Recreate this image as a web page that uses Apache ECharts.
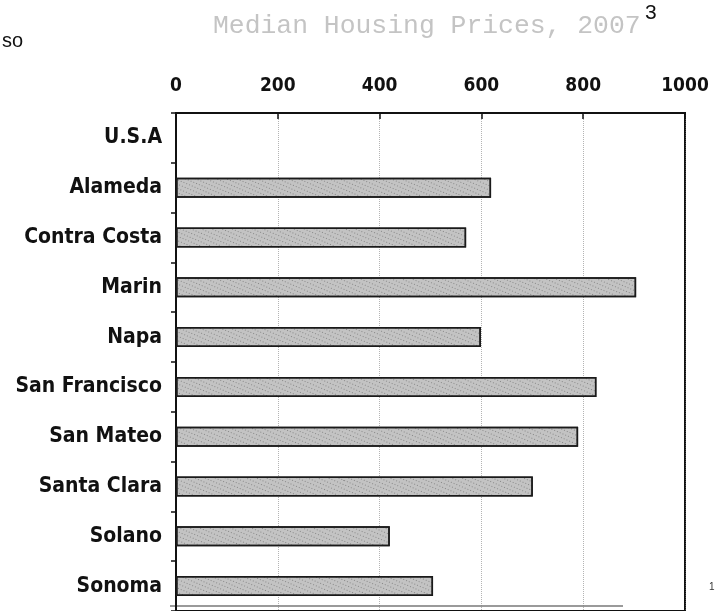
<!DOCTYPE html>
<html>
<head>
<meta charset="utf-8">
<script src="https://cdn.jsdelivr.net/npm/echarts@6/dist/echarts.min.js"></script>
<style>
  html, body { margin: 0; padding: 0; background: #fff; }
  #chart { width: 727px; height: 611px; }
</style>
</head>
<body>
<div id="chart"></div>
<script>
// Median housing prices by county, 2007 (thousands of dollars)
const counties = ['U.S.A', 'Alameda', 'Contra Costa', 'Marin', 'Napa',
  'San Francisco', 'San Mateo', 'Santa Clara', 'Solano', 'Sonoma'];
const medianPrice = [null, 619, 570, 904, 599, 826, 790, 701, 420, 505];
const priceTicks = [0, 200, 400, 600, 800, 1000];

const titleText = 'Median Housing Prices, 2007';

const labelFont = "'Liberation Sans Narrow', 'DejaVu Sans Condensed', 'DejaVu Sans', sans-serif";

const chart = echarts.init(document.getElementById('chart'), null, { renderer: 'canvas' });

chart.setOption({
  animation: false,
  backgroundColor: '#ffffff',
  grid: {
    left: 176, right: 42, top: 113, height: 499,
    show: true, borderColor: '#111', borderWidth: 2, backgroundColor: 'transparent'
  },
  xAxis: {
    type: 'value',
    position: 'top',
    min: priceTicks[0],
    max: priceTicks[priceTicks.length - 1],
    interval: priceTicks[1] - priceTicks[0],
    axisLine: { show: true, lineStyle: { color: '#111', width: 2 } },
    axisTick: { show: true, inside: true, length: 6, lineStyle: { color: '#111', width: 1.5 } },
    axisLabel: {
      margin: 17,
      color: '#111',
      fontFamily: labelFont,
      fontWeight: 'bold',
      fontSize: 19,
      formatter: (v) => String(v)
    },
    splitLine: { show: true, lineStyle: { color: '#777', width: 1, type: 'dotted', opacity: 0.55 } }
  },
  yAxis: {
    type: 'category',
    data: counties,
    inverse: true,
    axisLine: { show: true, lineStyle: { color: '#111', width: 2 } },
    axisTick: { show: true, inside: false, length: 5, lineStyle: { color: '#111', width: 1.5 } },
    axisLabel: {
      margin: 14,
      color: '#111',
      fontFamily: labelFont,
      fontWeight: 'bold',
      fontSize: 21
    },
    splitLine: { show: false }
  },
  series: [{
    type: 'bar',
    data: medianPrice,
    barWidth: 20,
    itemStyle: {
      color: '#c3c3c3',
      borderColor: '#1a1a1a',
      borderWidth: 1.5,
      decal: {
        symbol: 'rect',
        symbolSize: 1,
        color: 'rgba(0,0,0,0.3)',
        dashArrayX: [1, 2],
        dashArrayY: [1, 3],
        rotation: 0.4
      }
    }
  }],
  graphic: [
    {
      type: 'text',
      left: 213, top: 13,
      style: {
        text: titleText,
        fill: '#c4c4c4',
        font: "26.4px 'Liberation Mono', 'DejaVu Sans Mono', monospace"
      }
    },
    {
      type: 'text',
      left: 645, top: 3,
      style: { text: '3', fill: '#111', font: "21px 'Liberation Sans', Arial, sans-serif" }
    },
    {
      type: 'text',
      left: 2, top: 31,
      style: { text: 'so', fill: '#111', font: "20px 'Liberation Sans', Arial, sans-serif" }
    },
    {
      type: 'text',
      left: 709, top: 582,
      style: { text: '1', fill: '#333', font: "10px 'Liberation Sans', Arial, sans-serif" }
    },
    {
      type: 'line',
      shape: { x1: 170, y1: 606, x2: 623, y2: 606 },
      style: { stroke: '#9a9a9a', lineWidth: 2 }
    }
  ]
});
</script>
</body>
</html>
